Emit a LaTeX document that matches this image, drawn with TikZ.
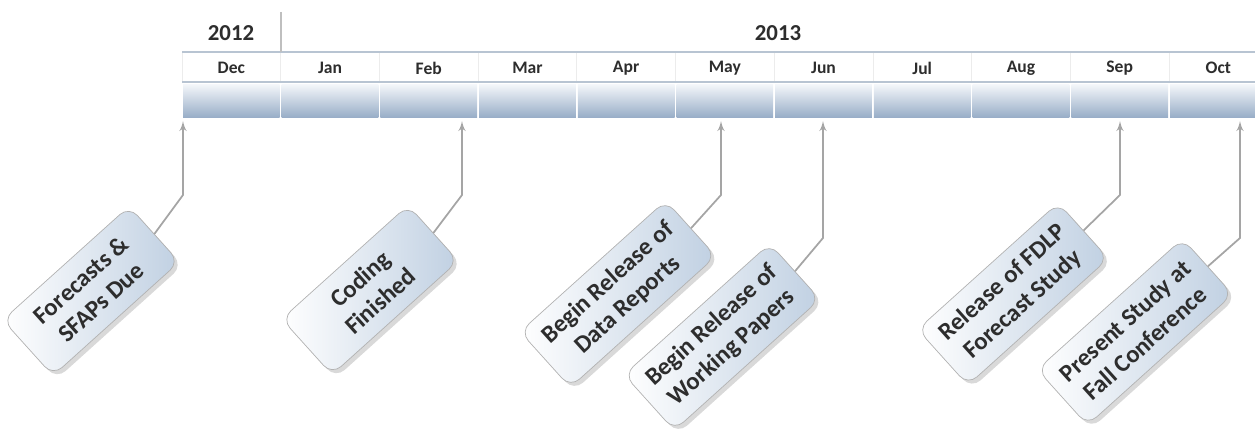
\documentclass[tikz,border=0pt]{standalone}
\usepackage{fontspec}
\setmainfont{Carlito}
\usetikzlibrary{arrows,shadows,positioning}
\definecolor{barTop}{RGB}{242,245,249}
\definecolor{barBot}{RGB}{150,172,198}
\definecolor{ruleBlue}{RGB}{184,196,210}
\definecolor{boxBlue}{RGB}{192,208,226}
\definecolor{linkGray}{RGB}{165,165,165}
\definecolor{txt}{RGB}{45,45,45}

\begin{document}
\begin{tikzpicture}[x=0.02cm,y=-0.02cm,>=latex',
  month/.style={font=\bfseries\fontsize{10}{12}\selectfont,text=txt},
  year/.style={font=\bfseries\fontsize{13}{15}\selectfont,text=txt},
  event/.style={rectangle,rounded corners=7pt,draw=gray!60,left color=white,right color=boxBlue,
    rotate=42,align=center,text=txt,font=\bfseries\fontsize{14}{17}\selectfont,
    inner xsep=8pt,inner ysep=5pt,minimum width=3.4cm,minimum height=1.5cm,
    drop shadow={shadow xshift=2pt,shadow yshift=-2pt,opacity=.3}},
  link/.style={->,draw=linkGray,line width=1pt}]

  \useasboundingbox (0,0) rectangle (1255,431);

  % year header
  \draw[ruleBlue,line width=1pt] (182,52) -- (1255,52);
  \draw[ruleBlue,line width=1pt] (182,82) -- (1255,82);
  \draw[gray!50,line width=0.8pt] (281,12) -- (281,52);
  \node[year] (y2012) at (231,33) {2012};
  \node[year] (y2013) at (778,33) {2013};

  % months and bar
  \foreach \m [count=\i from 0] in {Dec,Jan,Feb,Mar,Apr,May,Jun,Jul,Aug,Sep,Oct}{
    \node[month] (m\i) at (231.35+98.7*\i,68) {\m};
    \shade[top color=barTop,bottom color=barBot] (183+98.7*\i,85) rectangle (279.7+98.7*\i,118);
    \draw[gray!15] (182+98.7*\i,53) -- (182+98.7*\i,81);
  }

  % events
  \node[event] (e1) at (91,291) {Forecasts \&\\SFAPs Due};
  \node[event] (e2) at (370,290) {Coding\\Finished};
  \node[event] (e3) at (618,294) {Begin Release of\\Data Reports};
  \node[event] (e4) at (722,337) {Begin Release of\\Working Papers};
  \node[event] (e5) at (1013,294) {Release of FDLP\\Forecast Study};
  \node[event] (e6) at (1135,332) {Present Study at\\Fall Conference};

  \foreach \n/\x/\y in {1/183/195,2/462/195,3/721/195,4/823/238,5/1120/195,6/1240/238}{
    \coordinate (bend\n) at (\x,\y);
    \coordinate (tip\n) at (\x,121);
    \draw[link] (e\n.east) -- (bend\n) -- (tip\n);
  }
\end{tikzpicture}
\end{document}
